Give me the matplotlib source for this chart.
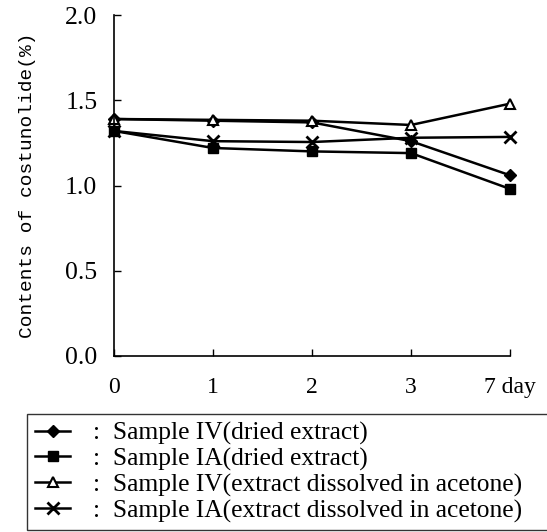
import matplotlib
matplotlib.use("Agg")
import matplotlib.pyplot as plt

days = ["0", "1", "2", "3", "7 day"]
iv_dried = [1.39, 1.38, 1.37, 1.26, 1.06]
ia_dried = [1.32, 1.22, 1.20, 1.19, 0.98]
iv_acetone = [1.39, 1.385, 1.38, 1.355, 1.48]
ia_acetone = [1.32, 1.26, 1.255, 1.28, 1.285]
labels = [":  Sample IV(dried extract)",
          ":  Sample IA(dried extract)",
          ":  Sample IV(extract dissolved in acetone)",
          ":  Sample IA(extract dissolved in acetone)"]
yticks = [0.0, 0.5, 1.0, 1.5, 2.0]

mono = ["Liberation Mono", "DejaVu Sans Mono"]
serif = ["Liberation Serif", "DejaVu Serif"]

fig = plt.figure(figsize=(5.47, 5.32), dpi=100)
ax = fig.add_axes([114/547, 1-356/532, (510-114)/547, (356-15)/532])

x = list(range(len(days)))
styles = [
    dict(marker="D", markersize=6, markerfacecolor="black"),
    dict(marker="s", markersize=7, markerfacecolor="black"),
    dict(marker="^", markersize=7, markerfacecolor="white", markeredgewidth=1.5),
    dict(marker="x", markersize=8, markeredgewidth=2),
]
series = [iv_dried, ia_dried, iv_acetone, ia_acetone]
handles = []
for s, st, lab in zip(series, styles, labels):
    h, = ax.plot(x, s, color="black", lw=1.8, clip_on=False, label=lab, **st)
    handles.append(h)

ax.set_xlim(0, len(days) - 1)
ax.set_ylim(0, 2.0)
ax.set_xticks(x)
ax.set_xticklabels(days, fontfamily=serif, fontsize=17)
ax.set_yticks(yticks)
ax.set_yticklabels([f"{v:.1f}" for v in yticks], fontfamily=serif, fontsize=18.5)
ax.tick_params(direction="in", length=5, width=1)
ax.tick_params(axis="x", pad=15)
ax.tick_params(axis="y", pad=12)
ax.spines["top"].set_visible(False)
ax.spines["right"].set_visible(False)
for sp in ("left", "bottom"):
    ax.spines[sp].set_linewidth(1.2)
ax.set_ylabel("Contents of costunolide(%)", fontfamily=mono, fontsize=14)
ax.yaxis.set_label_coords(-0.198, 0.5)

leg = fig.legend(handles=handles, loc="upper left",
                 bbox_to_anchor=(27/547, 1-414/532, (548-27)/547, 0), mode="expand",
                 prop=dict(family=serif, size=18.4), frameon=True, fancybox=False,
                 edgecolor="black", handlelength=1.4, handletextpad=0.9,
                 labelspacing=0.1, borderpad=0.3, borderaxespad=0)
leg.get_frame().set_linewidth(1.0)

fig.savefig("out.png", dpi=100)
